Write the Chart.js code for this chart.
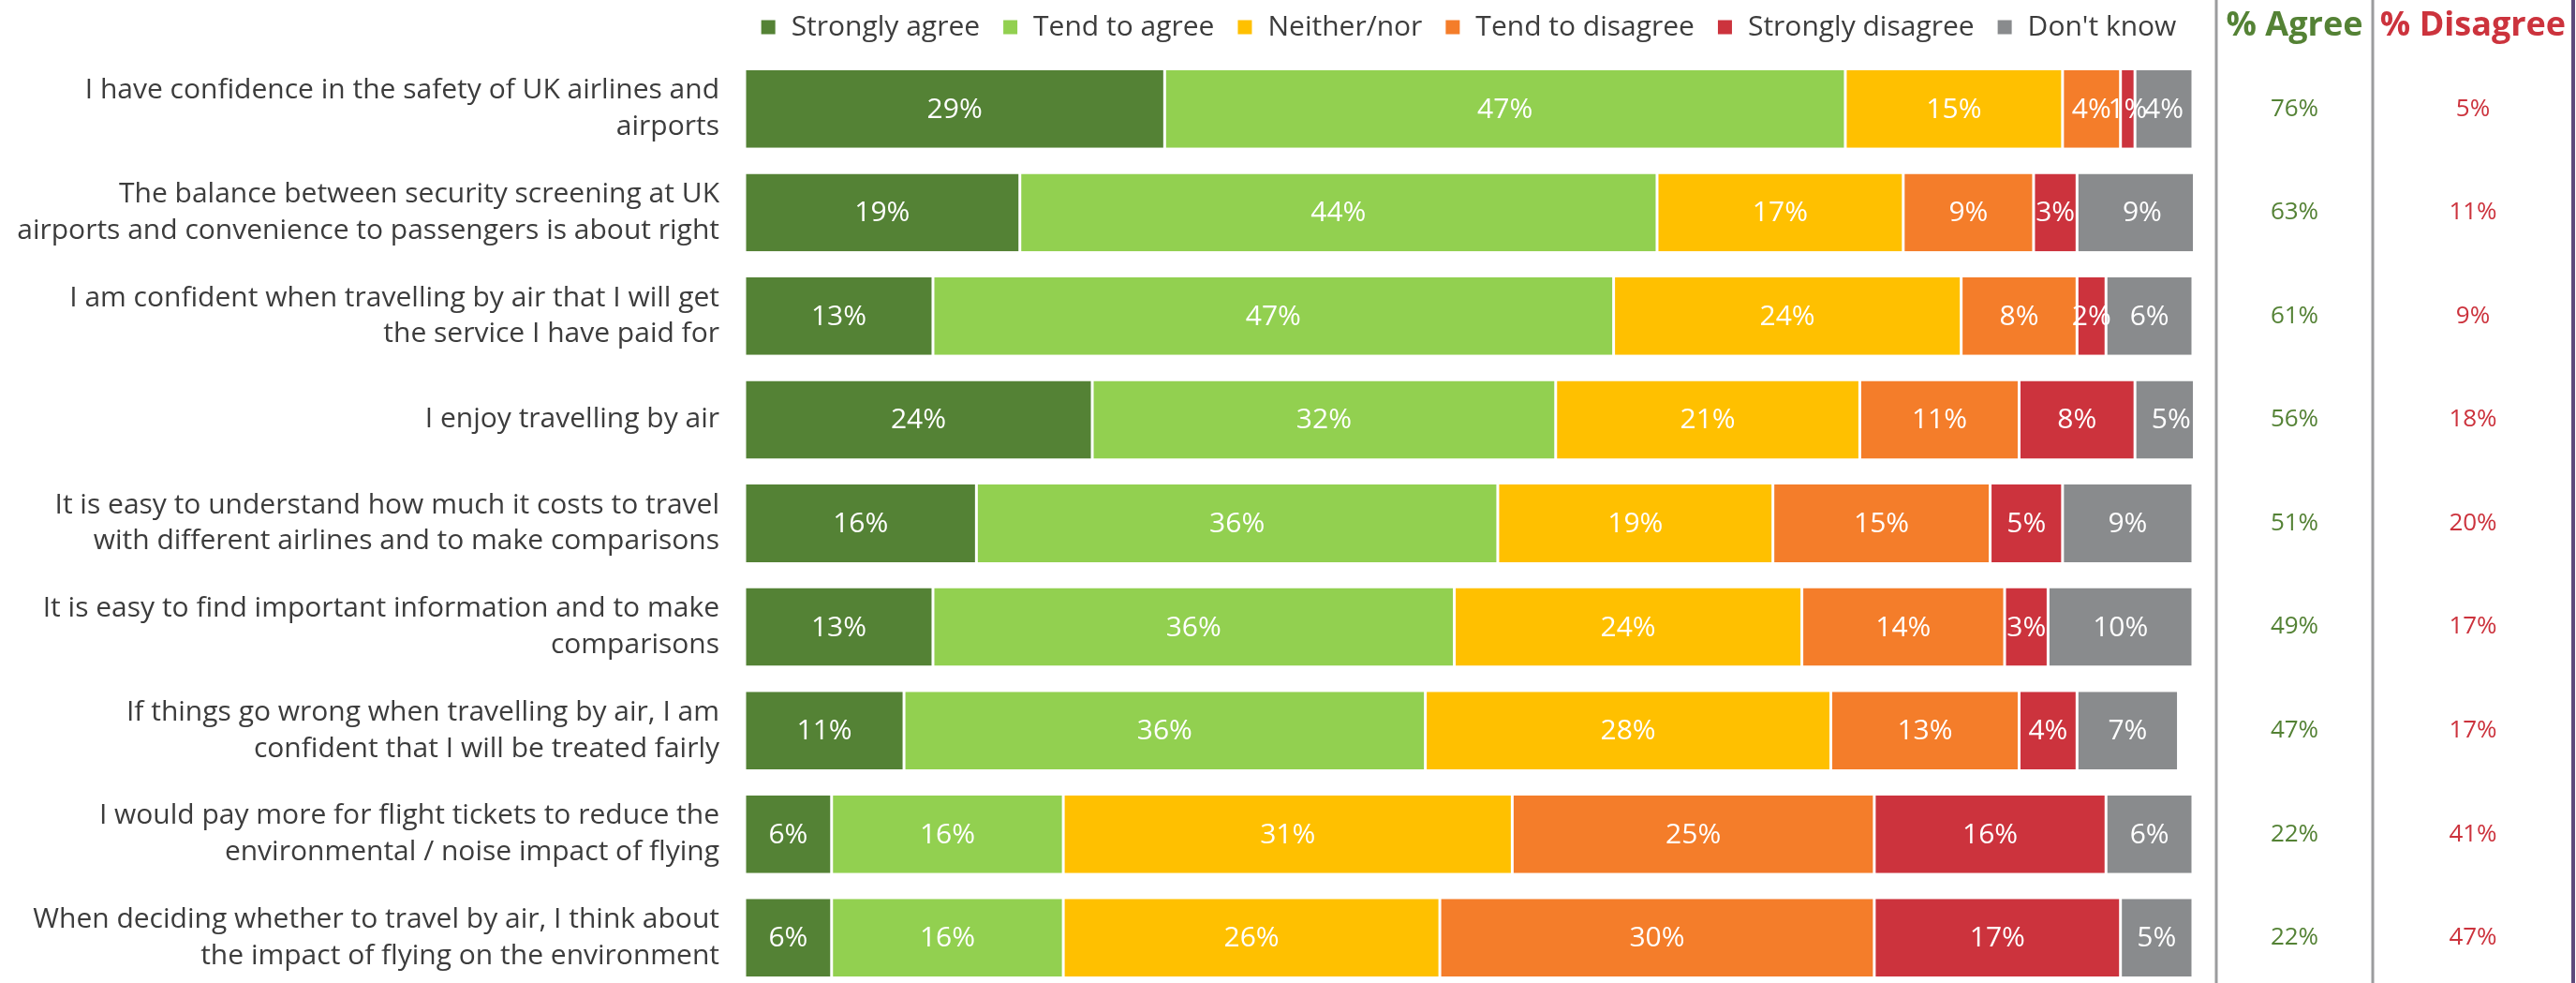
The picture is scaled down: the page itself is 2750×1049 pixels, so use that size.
<!DOCTYPE html>
<html>
<head>
<meta charset="utf-8">
<title>Attitudes to air travel</title>
<script src="https://cdn.jsdelivr.net/npm/chart.js@4.4.1/dist/chart.umd.min.js"></script>
<style>
    html, body { margin: 0; padding: 0; background: #fff; overflow: hidden; }
    #wrap { width: 2750px; height: 1056px; position: relative; }
</style>
</head>
<body>
<div id="wrap"><canvas id="attitudeChart"></canvas></div>
<script>
// statements (wrapped onto two lines where needed)
const statements = [
    ['I have confidence in the safety of UK airlines and', 'airports'],
    ['The balance between security screening at UK', 'airports and convenience to passengers is about right'],
    ['I am confident when travelling by air that I will get', 'the service I have paid for'],
    'I enjoy travelling by air',
    ['It is easy to understand how much it costs to travel', 'with different airlines and to make comparisons'],
    ['It is easy to find important information and to make', 'comparisons'],
    ['If things go wrong when travelling by air, I am', 'confident that I will be treated fairly'],
    ['I would pay more for flight tickets to reduce the', 'environmental / noise impact of flying'],
    ['When deciding whether to travel by air, I think about', 'the impact of flying on the environment']
];

// answer shares, %
const stronglyAgree    = [29, 19, 13, 24, 16, 13, 11, 6, 6];
const tendToAgree      = [47, 44, 47, 32, 36, 36, 36, 16, 16];
const neitherNor       = [15, 17, 24, 21, 19, 24, 28, 31, 26];
const tendToDisagree   = [4, 9, 8, 11, 15, 14, 13, 25, 30];
const stronglyDisagree = [1, 3, 2, 8, 5, 3, 4, 16, 17];
const dontKnow         = [4, 9, 6, 5, 9, 10, 7, 6, 5];

// net totals shown on the right
const agreeTotals    = [76, 63, 61, 56, 51, 49, 47, 22, 22];
const disagreeTotals = [5, 11, 9, 18, 20, 17, 17, 41, 47];

const FONT = '"Open Sans", "Noto Sans", sans-serif';
const TEXT = '#3c3c3c';
const GREEN_DARK = '#548235';
const RED = '#cc333d';

document.addEventListener('DOMContentLoaded', function() {
    createAttitudeChart();
});

// legend row across the top, centred over the bars
const topLegend = {
    id: 'topLegend',
    afterDraw(chart) {
        const { ctx, chartArea } = chart;
        const box = 15, boxGap = 17, itemGap = 25;
        ctx.save();
        ctx.font = '30px ' + FONT;
        ctx.textBaseline = 'middle';
        ctx.textAlign = 'left';
        const items = chart.data.datasets.map(ds => ({
            text: ds.label,
            color: ds.backgroundColor,
            w: ctx.measureText(ds.label).width
        }));
        const total = items.reduce((s, it) => s + box + boxGap + it.w, 0) + itemGap * (items.length - 1);
        let x = (chartArea.left + chartArea.right) / 2 - total / 2;
        const y = 29;
        items.forEach(it => {
            ctx.fillStyle = it.color;
            ctx.fillRect(x, y - box / 2, box, box);
            x += box + boxGap;
            ctx.fillStyle = TEXT;
            ctx.fillText(it.text, x, y);
            x += it.w + itemGap;
        });
        ctx.restore();
    }
};

// white % text in the middle of each segment
const segmentLabels = {
    id: 'segmentLabels',
    afterDatasetsDraw(chart) {
        const ctx = chart.ctx;
        ctx.save();
        ctx.font = '30px ' + FONT;
        ctx.fillStyle = '#ffffff';
        ctx.textAlign = 'center';
        ctx.textBaseline = 'middle';
        chart.data.datasets.forEach((ds, i) => {
            chart.getDatasetMeta(i).data.forEach((bar, j) => {
                ctx.fillText(ds.data[j] + '%', (bar.x + bar.base) / 2, bar.y + 1);
            });
        });
        ctx.restore();
    }
};

// % Agree / % Disagree columns with their dividers
const totalsColumns = {
    id: 'totalsColumns',
    afterDraw(chart) {
        const { ctx, chartArea, scales } = chart;
        const r = chartArea.right;
        const divA = r + 25, divB = r + 192, edge = r + 406;
        const colA = (divA + divB) / 2, colB = (divB + edge) / 2;

        ctx.save();
        ctx.lineWidth = 3;
        ctx.strokeStyle = '#9b9c9e';
        [divA, divB].forEach(x => {
            ctx.beginPath();
            ctx.moveTo(x, 0);
            ctx.lineTo(x, chart.height);
            ctx.stroke();
        });
        ctx.strokeStyle = '#5e4a7c';
        ctx.lineWidth = 4;
        ctx.beginPath();
        ctx.moveTo(edge, 0);
        ctx.lineTo(edge, chart.height);
        ctx.stroke();

        ctx.textAlign = 'center';
        ctx.textBaseline = 'middle';
        ctx.font = 'bold 36px ' + FONT;
        ctx.fillStyle = GREEN_DARK;
        ctx.fillText('% Agree', colA, 28);
        ctx.fillStyle = RED;
        ctx.fillText('% Disagree', colB, 28);

        ctx.font = '26px ' + FONT;
        agreeTotals.forEach((v, i) => {
            const y = scales.y.getPixelForValue(i);
            ctx.fillStyle = GREEN_DARK;
            ctx.fillText(v + '%', colA, y);
            ctx.fillStyle = RED;
            ctx.fillText(disagreeTotals[i] + '%', colB, y);
        });
        ctx.restore();
    }
};

function createAttitudeChart() {
    const ctx = document.getElementById('attitudeChart');
    if (!ctx) return;

    const series = [
        { label: 'Strongly agree', data: stronglyAgree, color: GREEN_DARK },
        { label: 'Tend to agree', data: tendToAgree, color: '#92d050' },
        { label: 'Neither/nor', data: neitherNor, color: '#ffc000' },
        { label: 'Tend to disagree', data: tendToDisagree, color: '#f47d2a' },
        { label: 'Strongly disagree', data: stronglyDisagree, color: RED },
        { label: "Don't know", data: dontKnow, color: '#898b8d' }
    ];

    const chartData = {
        labels: statements,
        datasets: series.map(s => ({
            label: s.label,
            data: s.data,
            backgroundColor: s.color,
            borderColor: '#ffffff',
            borderWidth: { left: 1.5, right: 1.5, top: 0, bottom: 0 },
            borderSkipped: false,
            barPercentage: 0.75,
            categoryPercentage: 1
        }))
    };

    const chartOptions = {
        indexAxis: 'y',
        responsive: true,
        maintainAspectRatio: false,
        animation: false,
        layout: {
            padding: { top: 61, right: 409, bottom: 0, left: 0 }
        },
        plugins: {
            title: { display: false },
            tooltip: { enabled: false },
            legend: { display: false }
        },
        scales: {
            x: {
                stacked: true,
                display: false,
                min: 0,
                max: 100
            },
            y: {
                stacked: true,
                grid: { display: false, drawTicks: false },
                border: { display: false },
                ticks: {
                    padding: 27,
                    color: TEXT,
                    font: { family: FONT, size: 30, lineHeight: 1.29 }
                },
                afterFit: function(scale) {
                    // fixed label column; no extra room for first/last label
                    scale.width = 795;
                    scale.paddingTop = 0;
                    scale.paddingBottom = 0;
                }
            }
        }
    };

    new Chart(ctx, {
        type: 'bar',
        data: chartData,
        options: chartOptions,
        plugins: [segmentLabels, totalsColumns, topLegend]
    });
}
</script>
</body>
</html>
